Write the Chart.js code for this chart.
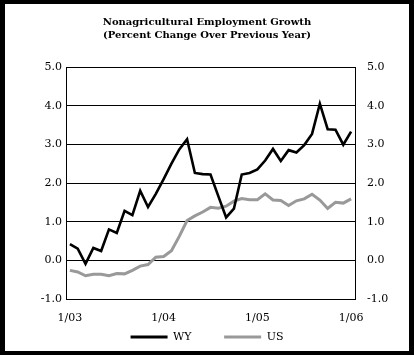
<!DOCTYPE html>
<html>
<head>
<meta charset="utf-8">
<script src="https://cdn.jsdelivr.net/npm/chart.js@4/dist/chart.umd.min.js"></script>
<style>
  html, body { margin: 0; padding: 0; background: #fff; }
  #frame { width: 414px; height: 355px; box-sizing: border-box; border-style: solid; border-color: #000; border-width: 4px 5px 4px 5px; background: #fff; }
  #wrap { position: relative; width: 404px; height: 347px; }
</style>
</head>
<body>
<div id="frame"><div id="wrap"><canvas id="c"></canvas></div></div>
<script>
const titleLines = ['Nonagricultural Employment Growth', '(Percent Change Over Previous Year)'];
const months = ['1/03','2/03','3/03','4/03','5/03','6/03','7/03','8/03','9/03','10/03','11/03','12/03',
                '1/04','2/04','3/04','4/04','5/04','6/04','7/04','8/04','9/04','10/04','11/04','12/04',
                '1/05','2/05','3/05','4/05','5/05','6/05','7/05','8/05','9/05','10/05','11/05','12/05',
                '1/06'];
const xTickLabels = ['1/03', '1/04', '1/05', '1/06'];
const wyValues = [0.42, 0.30, -0.09, 0.32, 0.24, 0.80, 0.71, 1.28, 1.17, 1.80, 1.38, 1.72,
                  2.10, 2.50, 2.87, 3.13, 2.26, 2.23, 2.22, 1.66, 1.11, 1.34, 2.22, 2.26,
                  2.35, 2.58, 2.88, 2.57, 2.85, 2.79, 2.98, 3.27, 4.05, 3.39, 3.38, 2.99,
                  3.33];
const usValues = [-0.26, -0.30, -0.40, -0.36, -0.36, -0.40, -0.34, -0.35, -0.26, -0.15, -0.11, 0.08,
                  0.10, 0.25, 0.62, 1.03, 1.15, 1.25, 1.37, 1.35, 1.40, 1.53, 1.60, 1.57,
                  1.57, 1.72, 1.56, 1.55, 1.42, 1.54, 1.59, 1.71, 1.56, 1.34, 1.50, 1.48,
                  1.59];
const yMin = -1, yMax = 5, yStep = 1;

const serif = "'DejaVu Serif', 'Liberation Serif', serif";

new Chart(document.getElementById('c'), {
  type: 'line',
  data: {
    labels: months,
    datasets: [
      { label: 'WY', data: wyValues, borderColor: '#000000', backgroundColor: '#000000', borderWidth: 2.6, pointRadius: 0, tension: 0, fill: false },
      { label: 'US', data: usValues, borderColor: '#999999', backgroundColor: '#999999', borderWidth: 3, pointRadius: 0, tension: 0, fill: false }
    ]
  },
  options: {
    responsive: true,
    maintainAspectRatio: false,
    animation: false,
    layout: { padding: 0 },
    plugins: {
      tooltip: { enabled: false },
      title: {
        display: true,
        text: titleLines,
        color: '#000',
        font: { family: serif, size: 10, weight: 'bold', lineHeight: 1.26 },
        padding: { top: 12.4, bottom: 25.4 }
      },
      legend: {
        display: true,
        position: 'bottom',
        maxHeight: 52,
        labels: {
          color: '#000',
          font: { family: serif, size: 11 },
          boxWidth: 37,
          boxHeight: 3,
          padding: 32.5,
          generateLabels(chart) {
            return chart.data.datasets.map((ds, i) => ({
              text: ds.label, fillStyle: ds.borderColor, strokeStyle: ds.borderColor,
              lineWidth: 0, hidden: false, datasetIndex: i, fontColor: '#000'
            }));
          }
        }
      }
    },
    scales: {
      x: {
        type: 'category',
        offset: true,
        grid: { display: false },
        border: { display: false },
        afterFit(scale) {
          scale.height = 0;
          scale._computeLabelArea = () => null;
        },
        ticks: {
          autoSkip: false, maxRotation: 0, minRotation: 0, padding: 4.5,
          color: '#000', font: { family: serif, size: 11 },
          callback(val) { const l = this.getLabelForValue(val); return xTickLabels.includes(l) ? l : ''; }
        }
      },
      y: {
        position: 'left',
        min: yMin, max: yMax,
        afterFit(scale) { scale.width = 61; },
        grid: { color: '#000', lineWidth: 1, drawTicks: false, tickLength: 0 },
        border: { display: true, color: '#000', width: 1 },
        ticks: { stepSize: yStep, padding: 4, color: '#000', font: { family: serif, size: 11 }, callback: v => v.toFixed(1) }
      },
      y2: {
        position: 'right',
        min: yMin, max: yMax,
        afterFit(scale) { scale.width = 54; },
        grid: { display: false, drawTicks: false },
        border: { display: true, color: '#000', width: 1 },
        ticks: { stepSize: yStep, padding: 12, color: '#000', font: { family: serif, size: 11 }, callback: v => v.toFixed(1) }
      }
    }
  }
});
</script>
</body>
</html>
